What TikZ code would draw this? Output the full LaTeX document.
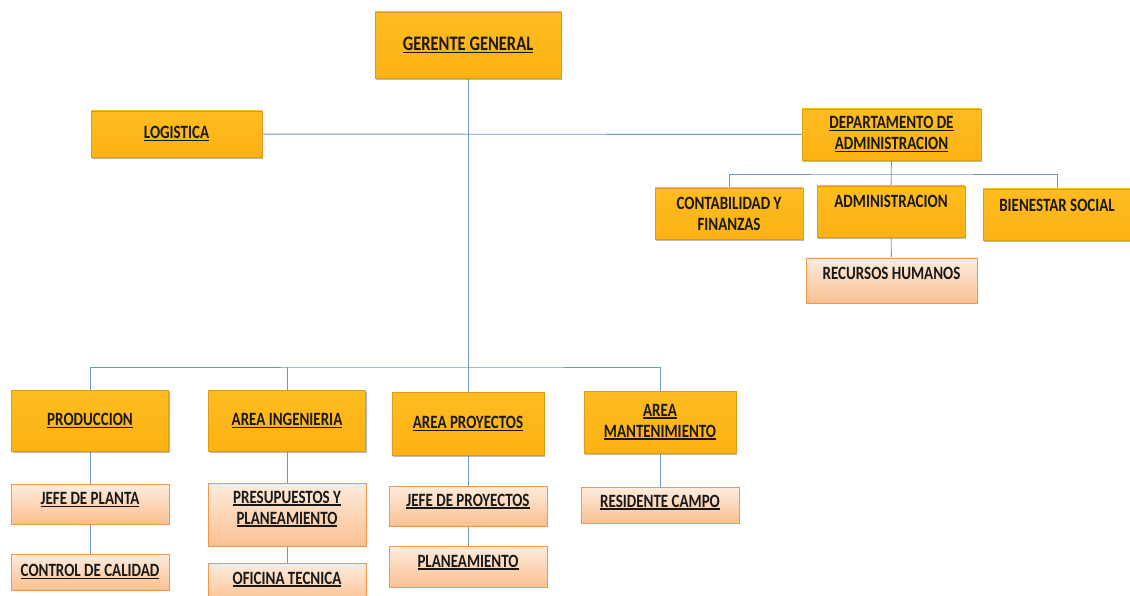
\documentclass[tikz,border=0pt]{standalone}
\usepackage{fontspec}
\usepackage{graphicx}
\setmainfont{Carlito}
\usetikzlibrary{shadows,backgrounds}
\definecolor{linea}{RGB}{110,150,205}
\definecolor{naranja}{RGB}{252,178,20}
\definecolor{naranjaclaro}{RGB}{255,188,32}
\definecolor{borde}{RGB}{225,155,25}
\definecolor{melon}{RGB}{251,192,145}
\definecolor{melonclaro}{RGB}{253,236,222}
\definecolor{melonborde}{RGB}{247,150,70}
\newsavebox{\subrbox}
\newcommand{\alto}[1]{\scalebox{1}[1.25]{#1}}
\newcommand{\subr}[1]{\sbox{\subrbox}{\alto{#1}}\rlap{\rule[-2.6pt]{\wd\subrbox}{1.4pt}}\usebox{\subrbox}}
\tikzset{lift/.style={text depth=#1}}
\begin{document}
\begin{tikzpicture}[x=1pt,y=-1pt]
\tikzstyle{every node}+=[font=\fontsize{15}{21}\selectfont\bfseries, text=black!90, align=center, inner sep=0pt]
\tikzstyle{cargo}=[draw=borde, line width=0.6pt, top color=naranjaclaro, bottom color=naranja, drop shadow={shadow xshift=1.2pt, shadow yshift=-1.8pt, opacity=0.45, fill=black!60}]
\tikzstyle{area}=[cargo, minimum width=157pt, minimum height=61pt]
\tikzstyle{subarea}=[cargo, minimum width=148pt, minimum height=51pt]
\tikzstyle{puesto}=[draw=melonborde, line width=0.9pt, top color=melonclaro, bottom color=melon, minimum width=158pt, minimum height=40pt, drop shadow={shadow xshift=0.8pt, shadow yshift=-1.2pt, opacity=0.2}]
\tikzstyle{link}=[draw=linea, line width=0.9pt]
\useasboundingbox (0,0) rectangle (1130,596);
\node[cargo, minimum width=186pt, minimum height=66pt, font=\fontsize{16.5}{21}\selectfont\bfseries] (gerente) at (468,45) {\subr{GERENTE GENERAL}};
\node[cargo, minimum width=171pt, minimum height=46pt] (logistica) at (176.5,134) {\subr{LOGISTICA}};
\node[cargo, minimum width=179pt, minimum height=51pt] (depto) at (891.5,134.5) {\subr{DEPARTAMENTO DE}\\\subr{ADMINISTRACION}};
\node[subarea] (conta) at (729,213.5) {\alto{CONTABILIDAD Y}\\\alto{FINANZAS}};
\node[subarea, lift=20pt] (admin) at (891,211.5) {\alto{ADMINISTRACION}};
\node[subarea, lift=19pt] (bienestar) at (1057,214.5) {\alto{BIENESTAR SOCIAL}};
\node[puesto, minimum width=171pt, minimum height=45pt, lift=15pt] (rrhh) at (891.5,280.5) {\alto{RECURSOS HUMANOS}};
\node[area] (produccion) at (90,421) {\subr{PRODUCCION}};
\node[area] (ingenieria) at (287,421) {\subr{AREA INGENIERIA}};
\node[area, minimum width=152pt, minimum height=63pt] (proyectos) at (468,423.5) {\subr{AREA PROYECTOS}};
\node[area, minimum width=152pt, minimum height=62pt] (mant) at (660,422) {\subr{AREA}\\\subr{MANTENIMIENTO}};
\node[puesto, lift=11pt] (jplanta) at (90,504) {\subr{JEFE DE PLANTA}};
\node[puesto, minimum height=36pt] (calidad) at (90,572) {\subr{CONTROL DE CALIDAD}};
\node[puesto, minimum height=63pt, lift=14pt] (presup) at (287,514.5) {\subr{PRESUPUESTOS Y}\\\subr{PLANEAMIENTO}};
\node[puesto, lift=10pt] (oficina) at (287,583) {\subr{OFICINA TECNICA}};
\node[puesto, lift=12pt] (jproy) at (468,506) {\subr{JEFE DE PROYECTOS}};
\node[puesto, minimum height=41pt, lift=11pt] (planea) at (468,566.5) {\subr{PLANEAMIENTO}};
\node[puesto, minimum height=36pt, lift=8pt] (residente) at (660,505) {\subr{RESIDENTE CAMPO}};
\coordinate (bus) at (468,367);
\coordinate (dbus) at (891,174);
\begin{scope}[on background layer]
\draw[link] (gerente) -- (proyectos);
\draw[link] (logistica) -- (depto);
\draw[link] (produccion) |- (bus) -| (mant);
\draw[link] (ingenieria) -- (ingenieria |- bus);
\draw[link] (produccion) -- (jplanta) -- (calidad);
\draw[link] (ingenieria) -- (presup) -- (oficina);
\draw[link] (proyectos) -- (jproy) -- (planea);
\draw[link] (mant) -- (residente);
\draw[link] (depto) -- (admin) -- (rrhh);
\draw[link] (conta) |- (dbus) -| (bienestar);
\end{scope}
\end{tikzpicture}
\end{document}
